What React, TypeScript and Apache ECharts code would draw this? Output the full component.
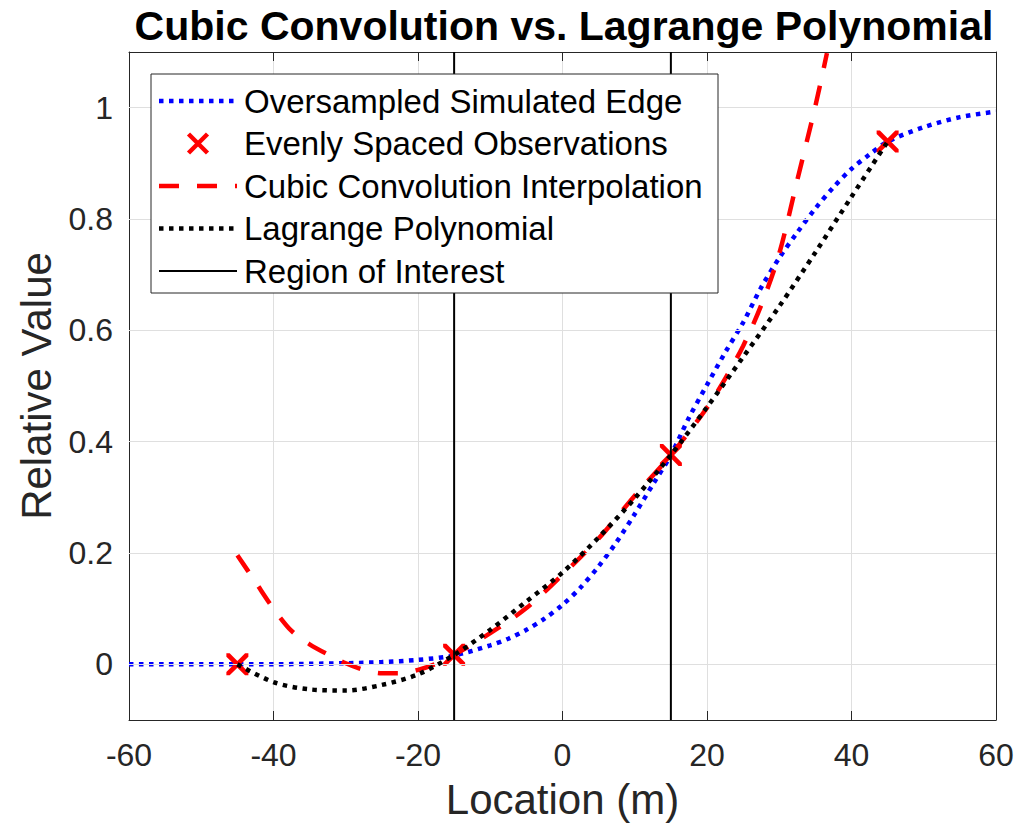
import React, { useEffect, useRef } from "react";
import * as echarts from "echarts";

// ---- data ----
const edgeX = [-60, -55, -50, -45, -40, -35, -30, -25, -20, -15, -10, -7.5, -5, -2.5, 0, 2.5, 5, 7.5, 10, 12.5, 15, 17.5, 20, 22.5, 25, 27.5, 30, 32.5, 35, 37.5, 40, 42.5, 45, 50, 55, 60];
const edgeY = [0, 0, 0, 0, 0, 0.001, 0.002, 0.004, 0.008, 0.016, 0.034, 0.046, 0.062, 0.082, 0.107, 0.138, 0.176, 0.22, 0.27, 0.323, 0.376, 0.443, 0.502, 0.56, 0.614, 0.677, 0.73, 0.776, 0.819, 0.857, 0.89, 0.916, 0.939, 0.965, 0.983, 0.993];

const obsX = [-45, -15, 15, 45];
const obsY = [0, 0.017, 0.376, 0.939];

const cubicX = [-45, -42.5, -40, -37.5, -35, -32.5, -30, -27.5, -25, -22.5, -20, -17.5, -15, -10, -5, 0, 5, 10, 15, 20, 22.5, 25, 27.5, 30, 32.5, 35, 36.6];
const cubicY = [0.196, 0.148, 0.1, 0.06, 0.036, 0.018, 0.002, -0.01, -0.016, -0.016, -0.01, 0.001, 0.017, 0.056, 0.101, 0.161, 0.226, 0.303, 0.376, 0.461, 0.513, 0.572, 0.645, 0.738, 0.87, 1.003, 1.098];

const lagX = [-45, -40, -35, -30, -25, -20, -15, -10, -5, 0, 5, 10, 15, 20, 25, 30, 35, 40, 45];
const lagY = [0, -0.032, -0.045, -0.047, -0.037, -0.018, 0.017, 0.062, 0.113, 0.165, 0.228, 0.298, 0.376, 0.462, 0.552, 0.643, 0.74, 0.84, 0.939];

const roiX = [-15, 15];

const xLimits = [-60, 60];
const yLimits = [-0.1, 1.1];
const xStep = 20;
const yTicks = [0, 0.2, 0.4, 0.6, 0.8, 1];

const names = [
  "Oversampled Simulated Edge",
  "Evenly Spaced Observations",
  "Cubic Convolution Interpolation",
  "Lagrange Polynomial",
  "Region of Interest",
];
const titleText = "Cubic Convolution vs. Lagrange Polynomial";
const xName = "Location (m)";
const yName = "Relative Value";

const zip = (xs: number[], ys: number[]) => xs.map((x, i) => [x, ys[i]]);

const FONT = "'Liberation Sans', Arial, Helvetica, sans-serif";
const AX = "#262626";
const GRID = "#dfdfdf";
const BLUE = "#0000ff";
const RED = "#ff0000";
const BLACK = "#000000";
const CROSS = "path://M0,0L3,0L10,7L17,0L20,0L20,3L13,10L20,17L20,20L17,20L10,13L3,20L0,20L0,17L7,10L0,3Z";

const DOT = [4.5, 5.5];
const DASH = [20, 18];

// legend box geometry
const LG = { x: 151, y: 74, w: 567, h: 219, row0: 101, rowGap: 42.5, lineX1: 159, lineX2: 237, textX: 244 };

function legendGraphics() {
  const els: any[] = [
    {
      type: "rect",
      shape: { x: LG.x, y: LG.y, width: LG.w, height: LG.h },
      style: { fill: "#fff", stroke: AX, lineWidth: 1 },
      z: 100,
    },
  ];
  const styles = [
    { stroke: BLUE, lineWidth: 4.5, lineDash: DOT },
    null,
    { stroke: RED, lineWidth: 4.5, lineDash: DASH },
    { stroke: BLACK, lineWidth: 4.5, lineDash: DOT },
    { stroke: BLACK, lineWidth: 2 },
  ];
  names.forEach((n, i) => {
    const cy = LG.row0 + i * LG.rowGap;
    const st = styles[i];
    if (st) {
      els.push({
        type: "line",
        shape: { x1: LG.lineX1, y1: cy, x2: LG.lineX2, y2: cy },
        style: { ...st, lineCap: "butt" },
        z: 101,
      });
    } else {
      const cx = (LG.lineX1 + LG.lineX2) / 2;
      const r = 9.5;
      els.push({
        type: "line",
        shape: { x1: cx - r, y1: cy - r, x2: cx + r, y2: cy + r },
        style: { stroke: RED, lineWidth: 4.5, lineCap: "butt" },
        z: 101,
      });
      els.push({
        type: "line",
        shape: { x1: cx - r, y1: cy + r, x2: cx + r, y2: cy - r },
        style: { stroke: RED, lineWidth: 4.5, lineCap: "butt" },
        z: 101,
      });
    }
    els.push({
      type: "text",
      x: LG.textX,
      y: cy,
      style: {
        text: n,
        fontFamily: FONT,
        fontSize: 33,
        fill: "#000",
        textAlign: "left",
        textVerticalAlign: "middle",
      },
      z: 101,
    });
  });
  return els;
}

export default function App() {
  const ref = useRef<HTMLDivElement>(null);
  useEffect(() => {
    if (!ref.current) return;
    const chart = echarts.init(ref.current, null, { renderer: "svg" });
    const roiSeries = roiX.map((x) => ({
      type: "line",
      name: names[4],
      data: [[x, yLimits[0]], [x, yLimits[1]]],
      symbol: "none",
      lineStyle: { color: BLACK, width: 2, type: "solid" },
      itemStyle: { color: BLACK },
      z: 6,
      silent: true,
    }));
    chart.setOption({
      animation: false,
      textStyle: { fontFamily: FONT },
      grid: { left: 129, top: 52, width: 867, height: 668, containLabel: false },
      graphic: [
        {
          type: "text",
          x: 564,
          y: 5,
          style: {
            text: titleText,
            fontFamily: FONT,
            fontSize: 41,
            fontWeight: "bold",
            fill: "#000",
            textAlign: "center",
            textVerticalAlign: "top",
          },
          z: 100,
        },
        ...legendGraphics(),
      ],
      xAxis: [
        {
          type: "value",
          min: xLimits[0],
          max: xLimits[1],
          interval: xStep,
          position: "bottom",
          name: xName,
          nameLocation: "middle",
          nameGap: 58,
          nameTextStyle: { fontFamily: FONT, fontSize: 42, color: AX },
          axisLine: { show: true, onZero: false, lineStyle: { color: AX, width: 1 } },
          axisTick: { show: true, inside: true, length: 9, lineStyle: { color: AX } },
          axisLabel: { fontFamily: FONT, fontSize: 32, color: AX, margin: 19 },
          splitLine: { show: true, lineStyle: { color: GRID, width: 1 } },
        },
        {
          type: "value",
          min: xLimits[0],
          max: xLimits[1],
          interval: xStep,
          position: "top",
          axisLine: { show: true, onZero: false, lineStyle: { color: AX, width: 1 } },
          axisTick: { show: true, inside: true, length: 9, lineStyle: { color: AX } },
          axisLabel: { show: false },
          splitLine: { show: false },
        },
      ],
      yAxis: [
        {
          type: "value",
          min: yLimits[0],
          max: yLimits[1],
          position: "left",
          name: yName,
          nameLocation: "middle",
          nameGap: 62,
          nameTextStyle: { fontFamily: FONT, fontSize: 42, color: AX },
          axisLine: { show: true, onZero: false, lineStyle: { color: AX, width: 1 } },
          axisTick: { show: true, inside: true, length: 9, customValues: yTicks, lineStyle: { color: AX } },
          axisLabel: { fontFamily: FONT, fontSize: 32, color: AX, margin: 16, customValues: yTicks, formatter: (v: number) => String(Math.round(v * 10) / 10) },
          splitLine: { show: false },
        },
        {
          type: "value",
          min: yLimits[0],
          max: yLimits[1],
          position: "right",
          axisLine: { show: true, onZero: false, lineStyle: { color: AX, width: 1 } },
          axisTick: { show: true, inside: true, length: 9, customValues: yTicks, lineStyle: { color: AX } },
          axisLabel: { show: false },
          splitLine: { show: false },
        },
      ],
      series: [
        {
          type: "line",
          name: "__grid",
          data: [],
          silent: true,
          z: 1,
          markLine: {
            silent: true,
            symbol: ["none", "none"],
            label: { show: false },
            lineStyle: { color: GRID, width: 1, type: "solid" },
            data: yTicks.map((v) => ({ yAxis: v })),
          },
        },
        {
          type: "line",
          name: names[0],
          data: zip(edgeX, edgeY),
          symbol: "none",
          smooth: 0.3,
          lineStyle: { color: BLUE, width: 4.5, type: DOT, cap: "butt" },
          itemStyle: { color: BLUE },
          z: 2,
        },
        {
          type: "scatter",
          name: names[1],
          data: zip(obsX, obsY),
          symbol: CROSS,
          symbolSize: 22,
          itemStyle: { color: RED, opacity: 1 },
          z: 3,
        },
        {
          type: "line",
          name: names[2],
          data: zip(cubicX, cubicY),
          symbol: "none",
          smooth: 0.3,
          lineStyle: { color: RED, width: 4.5, type: DASH, cap: "butt" },
          itemStyle: { color: RED },
          z: 4,
        },
        {
          type: "line",
          name: names[3],
          data: zip(lagX, lagY),
          symbol: "none",
          smooth: 0.3,
          lineStyle: { color: BLACK, width: 4.5, type: DOT, cap: "butt" },
          itemStyle: { color: BLACK },
          z: 5,
        },
        ...roiSeries,
      ],
    });
    return () => chart.dispose();
  }, []);
  return (
    <div
      ref={ref}
      style={{ position: "fixed", left: 0, top: 0, width: 1020, height: 829, background: "#fff" }}
    />
  );
}
